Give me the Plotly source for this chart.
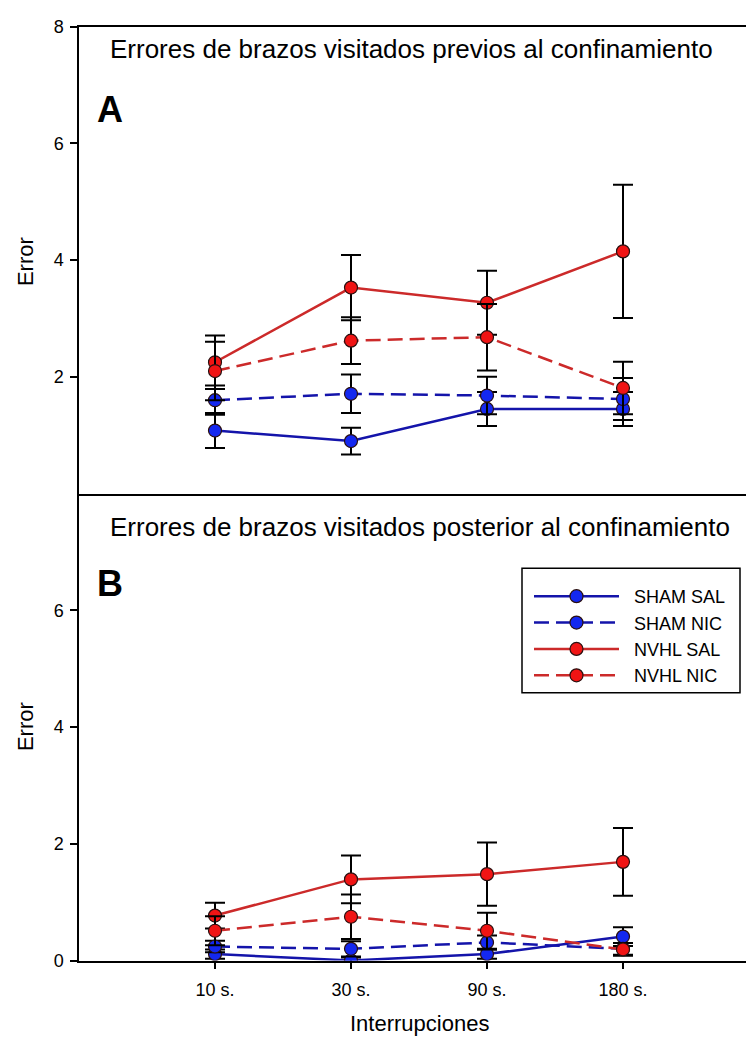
import plotly.graph_objects as go
from plotly.subplots import make_subplots

# Interruption intervals (x categories)
categories = ["10 s.", "30 s.", "90 s.", "180 s."]
x_pos = [1, 2, 3, 4]

# Panel A: errors before confinement (mean, SEM)
sham_sal_pre = [1.08, 0.90, 1.45, 1.45]
sham_sal_pre_err = [0.30, 0.23, 0.29, 0.29]
sham_nic_pre = [1.60, 1.71, 1.68, 1.62]
sham_nic_pre_err = [0.25, 0.33, 0.32, 0.36]
nvhl_sal_pre = [2.25, 3.53, 3.27, 4.15]
nvhl_sal_pre_err = [0.46, 0.56, 0.55, 1.14]
nvhl_nic_pre = [2.10, 2.62, 2.68, 1.81]
nvhl_nic_pre_err = [0.50, 0.40, 0.57, 0.45]

# Panel B: errors after confinement (mean, SEM)
sham_sal_post = [0.11, 0.00, 0.11, 0.41]
sham_sal_post_err = [0.08, 0.05, 0.08, 0.16]
sham_nic_post = [0.24, 0.20, 0.31, 0.20]
sham_nic_post_err = [0.10, 0.13, 0.12, 0.10]
nvhl_sal_post = [0.77, 1.39, 1.48, 1.69]
nvhl_sal_post_err = [0.22, 0.41, 0.54, 0.58]
nvhl_nic_post = [0.51, 0.75, 0.51, 0.19]
nvhl_nic_post_err = [0.25, 0.38, 0.31, 0.11]

group_names = ["SHAM SAL", "SHAM NIC", "NVHL SAL", "NVHL NIC"]

W, H = 746, 1048
FONT = "Liberation Sans, Arial, sans-serif"

BLUE_LINE = "#1414AA"
BLUE_FILL = "#1428F0"
RED_LINE = "#CC2A2A"
RED_FILL = "#F01414"
EDGE = "#2A1010"
DASH = "15px,7px"

styles = [
    dict(line=BLUE_LINE, fill=BLUE_FILL, dash="solid"),
    dict(line=BLUE_LINE, fill=BLUE_FILL, dash=DASH),
    dict(line=RED_LINE, fill=RED_FILL, dash="solid"),
    dict(line=RED_LINE, fill=RED_FILL, dash=DASH),
]

pre = [(sham_sal_pre, sham_sal_pre_err), (sham_nic_pre, sham_nic_pre_err),
       (nvhl_sal_pre, nvhl_sal_pre_err), (nvhl_nic_pre, nvhl_nic_pre_err)]
post = [(sham_sal_post, sham_sal_post_err), (sham_nic_post, sham_nic_post_err),
        (nvhl_sal_post, nvhl_sal_post_err), (nvhl_nic_post, nvhl_nic_post_err)]


def px_x(p):
    return p / W


def px_y(p):
    return 1 - p / H


fig = make_subplots(rows=2, cols=1, vertical_spacing=0)

NBSP = "\u00a0\u00a0"
for row, data in ((1, pre), (2, post)):
    for rank, (name, st, (vals, errs)) in enumerate(zip(group_names, styles, data)):
        fig.add_trace(
            go.Scatter(
                x=x_pos, y=vals, name=NBSP + name, mode="lines+markers",
                line=dict(color=st["line"], width=2.5, dash=st["dash"]),
                marker=dict(size=13, color=st["fill"], line=dict(color=EDGE, width=1.2)),
                error_y=dict(type="data", array=errs, visible=True,
                             color="black", thickness=2, width=10),
                showlegend=(row == 2),
                legendrank=rank + 1,
            ),
            row=row, col=1,
        )

x_dom = [px_x(79), 1.0]
x_rng = [0, (W - 79) / 136]

axis_common = dict(showgrid=False, zeroline=False, showline=True,
                   linecolor="black", linewidth=1.5,
                   tickfont=dict(family=FONT, size=18, color="black"))

fig.update_layout(
    width=W, height=H, autosize=False,
    margin=dict(l=0, r=0, t=0, b=0),
    paper_bgcolor="white", plot_bgcolor="white",
    font=dict(family=FONT, color="black"),
    xaxis=dict(domain=x_dom, range=x_rng, showticklabels=False, ticks="",
               mirror=True, **axis_common),
    yaxis=dict(domain=[px_y(493), px_y(17)], range=[0, 8],
               tickvals=[2, 4, 6, 8], ticks="outside", ticklen=7, tickwidth=1.5,
               tickcolor="black", ticklabelstandoff=3, **axis_common),
    xaxis2=dict(domain=x_dom, range=x_rng, tickvals=x_pos, ticktext=categories,
                ticks="outside", ticklen=7, tickwidth=1.5, tickcolor="black",
                ticklabelstandoff=5, **axis_common),
    yaxis2=dict(domain=[px_y(969), px_y(493)], range=[0, 8],
                tickvals=[0, 2, 4, 6], ticks="outside", ticklen=7, tickwidth=1.5,
                tickcolor="black", ticklabelstandoff=3, **axis_common),
    legend=dict(
        x=px_x(529), y=px_y(579), xanchor="left", yanchor="top",
        borderwidth=0, bgcolor="rgba(0,0,0,0)",
        font=dict(family=FONT, size=18, color="black"),
        itemwidth=85, tracegroupgap=0,
    ),
    shapes=[dict(type="rect", xref="paper", yref="paper",
                 x0=px_x(522), x1=px_x(740), y0=px_y(696), y1=px_y(569),
                 line=dict(color="black", width=1.5), fillcolor="white",
                 layer="above")],
)

annotations = [
    dict(text="Errores de brazos visitados previos al confinamiento",
         x=px_x(108), y=px_y(40), xanchor="left", yanchor="middle",
         font=dict(family=FONT, size=26)),
    dict(text="Errores de brazos visitados posterior al confinamiento",
         x=px_x(108), y=px_y(527), xanchor="left", yanchor="middle",
         font=dict(family=FONT, size=26)),
    dict(text="<b>A</b>", x=px_x(95), y=px_y(101), xanchor="left", yanchor="middle",
         font=dict(family=FONT, size=36)),
    dict(text="<b>B</b>", x=px_x(95), y=px_y(585), xanchor="left", yanchor="middle",
         font=dict(family=FONT, size=36)),
    dict(text="Error", x=px_x(25), y=px_y(257), textangle=-90,
         xanchor="center", yanchor="middle", font=dict(family=FONT, size=22)),
    dict(text="Error", x=px_x(25), y=px_y(731), textangle=-90,
         xanchor="center", yanchor="middle", font=dict(family=FONT, size=22)),
    dict(text="Interrupciones", x=px_x(419), y=px_y(1033),
         xanchor="center", yanchor="middle", font=dict(family=FONT, size=22)),
]
for a in annotations:
    a.update(xref="paper", yref="paper", showarrow=False)
fig.update_layout(annotations=annotations)

fig.write_html("out.html")
